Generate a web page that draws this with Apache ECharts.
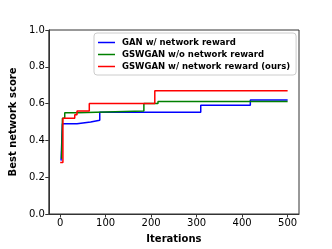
<!DOCTYPE html>
<html><head><meta charset="utf-8">
<script src="https://cdn.jsdelivr.net/npm/echarts@6/dist/echarts.min.js"></script>
<style>html,body{margin:0;padding:0;background:#fff}#c{width:332px;height:249px}</style>
</head><body><div id="c"></div>
<script>
const seriesNames = ["GAN w/ network reward", "GSWGAN w/o network reward", "GSWGAN w/ network reward (ours)"];
const ganIter = [2, 5, 37, 67, 87, 309, 418, 500];
const ganScore = [0.29, 0.49, 0.50, 0.51, 0.553, 0.591, 0.62, 0.62];
const gswIter = [3, 5, 10, 37, 184, 215, 500];
const gswScore = [0.30, 0.52, 0.55, 0.56, 0.60, 0.612, 0.612];
const oursIter = [0, 6, 32, 37, 64, 208, 500];
const oursScore = [0.28, 0.52, 0.54, 0.56, 0.60, 0.67, 0.67];
const xTicks = [0, 100, 200, 300, 400, 500];
const colors = ["#0000ff", "#008000", "#ff0000"];

function pairs(xs, ys) { return xs.map((x, i) => [x, ys[i]]); }
const datas = [pairs(ganIter, ganScore), pairs(gswIter, gswScore), pairs(oursIter, oursScore)];

const chart = echarts.init(document.getElementById('c'), null, {renderer: 'canvas'});
const font = 'DejaVu Sans';
chart.setOption({
  animation: false,
  grid: {left: 41, top: 30, right: 33, bottom: 27, show: true, borderColor: '#333', borderWidth: 1, backgroundColor: 'transparent'},
  xAxis: {
    type: 'value', min: -25, max: 525,
    name: 'Iterations', nameLocation: 'middle', nameGap: 20,
    nameTextStyle: {fontFamily: font, fontWeight: 'bold', fontSize: 10, color: '#000'},
    axisLine: {show: true, onZero: false, lineStyle: {color: '#333'}},
    axisTick: {show: true, length: 3.5, customValues: xTicks, lineStyle: {color: '#333'}},
    axisLabel: {customValues: xTicks, fontFamily: font, fontSize: 10, color: '#000', margin: 4},
    splitLine: {show: false}
  },
  yAxis: {
    type: 'value', min: 0, max: 1, interval: 0.2,
    name: 'Best network score', nameLocation: 'middle', nameGap: 29,
    nameTextStyle: {fontFamily: font, fontWeight: 'bold', fontSize: 10, color: '#000'},
    axisLine: {show: true, onZero: false, lineStyle: {color: '#333'}},
    axisTick: {show: true, length: 3.5, lineStyle: {color: '#333'}},
    axisLabel: {fontFamily: font, fontSize: 10, color: '#000', margin: 4, formatter: v => v.toFixed(1)},
    splitLine: {show: false}
  },
  legend: {
    orient: 'vertical', left: 94, top: 33, itemGap: 3, padding: [5, 6, 4, 4],
    backgroundColor: '#fff', borderColor: '#ccc', borderWidth: 1, borderRadius: 3,
    icon: 'rect', itemWidth: 17, itemHeight: 1.5,
    textStyle: {fontFamily: font, fontWeight: 'bold', fontSize: 8.5, color: '#000', padding: [0, 0, 0, 2]},
    data: seriesNames
  },
  series: seriesNames.map((n, i) => ({
    name: n, type: 'line', step: 'end', data: datas[i], symbol: 'none',
    color: colors[i], lineStyle: {width: 1.5, color: colors[i]}, z: 2 + i
  }))
});
</script></body></html>
